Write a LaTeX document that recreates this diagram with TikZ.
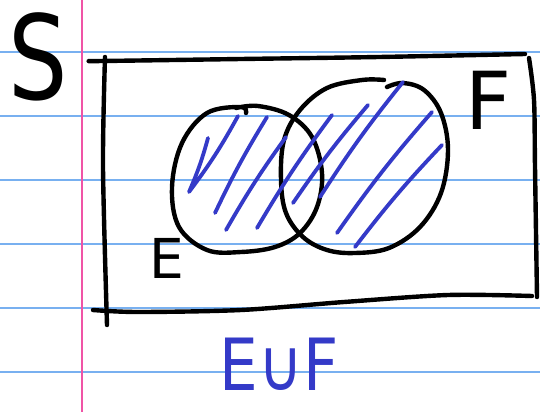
\documentclass[tikz,border=0pt]{standalone}
\usepackage{fontspec}
\usepackage{graphicx}
\setmainfont{DejaVu Sans}
\definecolor{ruleblue}{RGB}{120,176,240}
\definecolor{marginpink}{RGB}{240,84,166}
\definecolor{penblue}{RGB}{52,58,200}
\tikzset{
  ink/.style={line width=4.4pt, black, line cap=round, line join=round},
  hatch/.style={line width=3.8pt, penblue, line cap=round, line join=round},
  rule/.style={line width=1.4pt, ruleblue},
  lbl/.style={inner sep=0pt, black}
}
\begin{document}
\begin{tikzpicture}[x=1pt,y=-1pt]
\useasboundingbox (0,0) rectangle (540,412);
\fill[white] (0,0) rectangle (540,412);
% notebook rules
\foreach \yy in {52,116,180,244,308,372} \draw[rule] (0,\yy) -- (540,\yy);
\draw[line width=1.8pt, marginpink] (82,0) -- (82,412);
% sample space rectangle
\draw[ink] plot[smooth] coordinates {(90,61) (103,61) (241,59) (379,57) (525,54)};
\draw[ink] plot[smooth] coordinates {(529,58) (534,100) (535,167) (537,297)};
\draw[ink] plot[smooth] coordinates {(532,296) (448,295) (344,302) (241,310) (138,312) (93,310)};
\draw[ink] plot[smooth] coordinates {(105,57) (103,167) (107,325)};
% ellipse E
\draw[ink] plot[smooth, tension=0.6] coordinates {(246,113) (241,107) (207,113) (182,143) (172,187) (179,227) (207,250) (241,252) (275,247) (300,233) (317,207) (322,173) (312,137) (289,115) (258,106) (236,108)};
% ellipse F
\draw[ink] plot[smooth, tension=0.6] coordinates {(384,80) (362,80) (327,88) (300,110) (284,140) (281,180) (286,213) (303,237) (327,250) (355,253) (389,248) (420,227) (441,193) (448,150) (441,113) (424,90) (403,83) (387,87)};
% hatching
\draw[hatch] (208,138) to[bend left=4] (189,192) to[bend right=4] (238,116);
\draw[hatch] (215,213) to[bend left=3] (267,117);
\draw[hatch] (226,230) to[bend left=3] (286,137);
\draw[hatch] (257,228) to[bend left=3] (332,115);
\draw[hatch] (293,203) to[bend left=3] (368,105);
\draw[hatch] (320,197) to[bend left=3] (403,82);
\draw[hatch] (337,233) to[bend left=3] (432,112);
\draw[hatch] (355,247) to[bend left=3] (442,145);
% labels
\node[lbl] (S) at (38,57) {\scalebox{0.8}[1]{\fontsize{117}{117}\selectfont S}};
\node[lbl] (F) at (488,100) {\fontsize{80}{80}\selectfont F};
\node[lbl] (E) at (167,258) {\fontsize{55}{55}\selectfont E};
\node[lbl, penblue] (U) at (279,364) {\scalebox{0.85}[1]{\fontsize{72}{72}\selectfont E∪F}};
\end{tikzpicture}
\end{document}
